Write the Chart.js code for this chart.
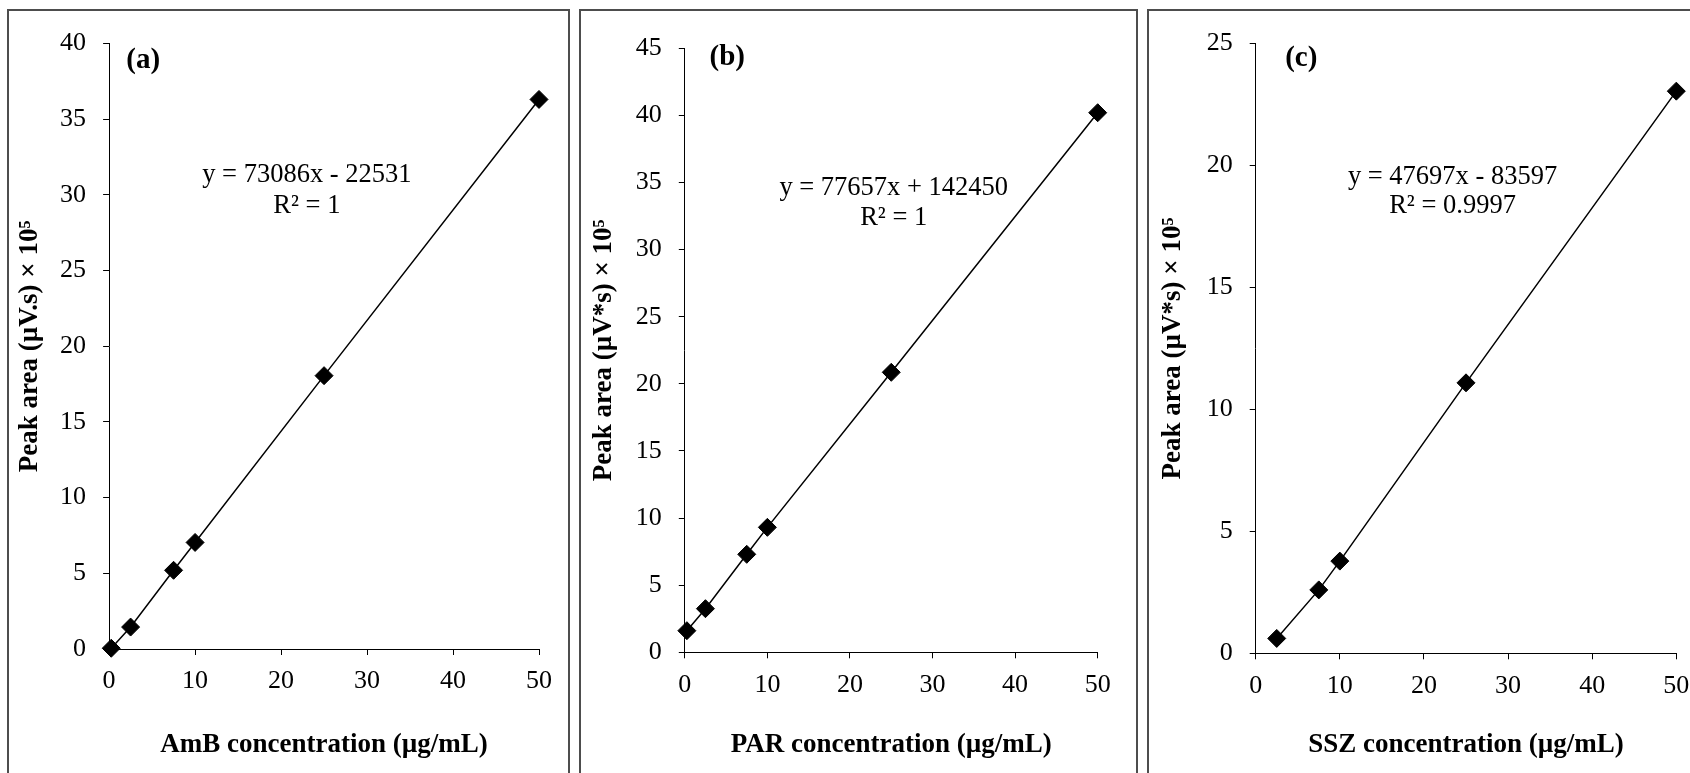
<!DOCTYPE html>
<html>
<head>
<meta charset="utf-8">
<script src="https://cdn.jsdelivr.net/npm/chart.js@4"></script>
<style>
    body { margin: 0; width: 1690px; height: 773px; overflow: hidden; background: #fff; position: relative; }
    .box { position: absolute; box-sizing: border-box; border: 2px solid #4d4d4d; height: 820px; }
    canvas { position: absolute; }
</style>
</head>
<body>
<div class="box" style="left:7px;top:9px;width:563px"></div>
<div class="box" style="left:579px;top:9px;width:559px"></div>
<div class="box" style="left:1147px;top:9px;width:600px"></div>
<canvas id="chart-a" style="left:9px;top:11px"></canvas>
<canvas id="chart-b" style="left:581px;top:11px"></canvas>
<canvas id="chart-c" style="left:1149px;top:11px"></canvas>
<script>
// concentrations (µg/mL) and peak areas (x 10^5)
const concA = [0.25, 2.5, 7.5, 10, 25, 50];
const areaA = [0.05, 1.45, 5.2, 7.04, 18.06, 36.31];
const concB = [0.25, 2.5, 7.5, 10, 25, 50];
const areaB = [1.61, 3.25, 7.3, 9.31, 20.86, 40.2];
const concC = [2.5, 7.5, 10, 25, 50];
const areaC = [0.61, 2.6, 3.78, 11.09, 23.05];

const yMaxA = 40, yMaxB = 45, yMaxC = 25;
const eqA = ["y = 73086x - 22531", "R² = 1"];
const eqB = ["y = 77657x + 142450", "R² = 1"];
const eqC = ["y = 47697x - 83597", "R² = 0.9997"];

Chart.defaults.font.family = "'Liberation Serif', 'Times New Roman', serif";
Chart.defaults.color = "#000";

const FONT = 26;
const TITLE_FONT = 27;

function labelsPlugin(tag, tagAt, eq, eqAt) {
    return {
        id: "labels",
        afterDraw(chart) {
            const {ctx, scales: {x, y}} = chart;
            ctx.save();
            ctx.fillStyle = "#000";
            ctx.textBaseline = "middle";
            ctx.font = "bold 29px 'Liberation Serif'";
            ctx.textAlign = "left";
            ctx.fillText(tag, x.getPixelForValue(tagAt[0]), y.getPixelForValue(tagAt[1]));
            ctx.font = "26.5px 'Liberation Serif'";
            ctx.textAlign = "center";
            eq.forEach((line, i) => {
                ctx.fillText(line, x.getPixelForValue(eqAt[0]), y.getPixelForValue(eqAt[1][i]));
            });
            ctx.restore();
        }
    };
}

function makeChart(id, w, h, area, xs, ys, yMax, xTitle, yTitle, yTitlePad, plugin) {
    const canvas = document.getElementById(id);
    canvas.width = w;
    canvas.height = h;
    canvas.style.width = w + "px";
    canvas.style.height = h + "px";
    const padBottom = 12;
    new Chart(canvas, {
        type: "scatter",
        data: {
            datasets: [{
                data: xs.map((v, i) => ({x: v, y: ys[i]})),
                showLine: true,
                borderColor: "#000",
                borderWidth: 1.5,
                backgroundColor: "#000",
                pointStyle: "rectRot",
                pointRadius: 9,
                pointBorderWidth: 1,
                pointBorderColor: "#000",
                pointBackgroundColor: "#000",
                clip: false
            }]
        },
        options: {
            responsive: false,
            animation: false,
            devicePixelRatio: 1,
            layout: {
                padding: {left: 0, top: area.top, right: w - area.right, bottom: padBottom}
            },
            plugins: {legend: {display: false}, tooltip: {enabled: false}},
            scales: {
                x: {
                    type: "linear",
                    min: 0, max: 50,
                    ticks: {stepSize: 10, padding: 11, font: {size: FONT}},
                    grid: {drawOnChartArea: false, drawTicks: true, tickLength: 6, color: "#000"},
                    border: {display: true, color: "#000", width: 1},
                    title: {display: true, text: xTitle, font: {size: TITLE_FONT, weight: "bold"}, padding: {top: 0, bottom: 0}},
                    afterFit: s => { s.height = h - padBottom - area.bottom; }
                },
                y: {
                    type: "linear",
                    min: 0, max: yMax,
                    ticks: {stepSize: 5, padding: 17, font: {size: FONT}},
                    grid: {drawOnChartArea: false, drawTicks: true, tickLength: 6, color: "#000"},
                    border: {display: true, color: "#000", width: 1},
                    title: {display: true, text: yTitle, font: {size: TITLE_FONT, weight: "bold"}, padding: {top: yTitlePad, bottom: 0}},
                    afterFit: s => { s.width = area.left; }
                }
            }
        },
        plugins: [plugin]
    });
}

makeChart("chart-a", 558, 762, {left: 100.1, top: 30, right: 530, bottom: 638},
    concA, areaA, yMaxA, "AmB concentration (µg/mL)", "Peak area (µV.s) × 10⁵", 5,
    labelsPlugin("(a)", [2.0, 38.9], eqA, [23.0, [31.3, 29.26]]));

makeChart("chart-b", 555, 762, {left: 103.8, top: 37.3, right: 516.7, bottom: 641.3},
    concB, areaB, yMaxB, "PAR concentration (µg/mL)", "Peak area (µV*s) × 10⁵", 7,
    labelsPlugin("(b)", [3.0, 44.28], eqB, [25.3, [34.57, 32.34]]));

makeChart("chart-c", 560, 762, {left: 106.7, top: 31.7, right: 527.3, bottom: 642.3},
    concC, areaC, yMaxC, "SSZ concentration (µg/mL)", "Peak area (µV*s) × 10⁵", 7.4,
    labelsPlugin("(c)", [3.5, 24.39], eqC, [23.4, [19.51, 18.35]]));
</script>
</body>
</html>
